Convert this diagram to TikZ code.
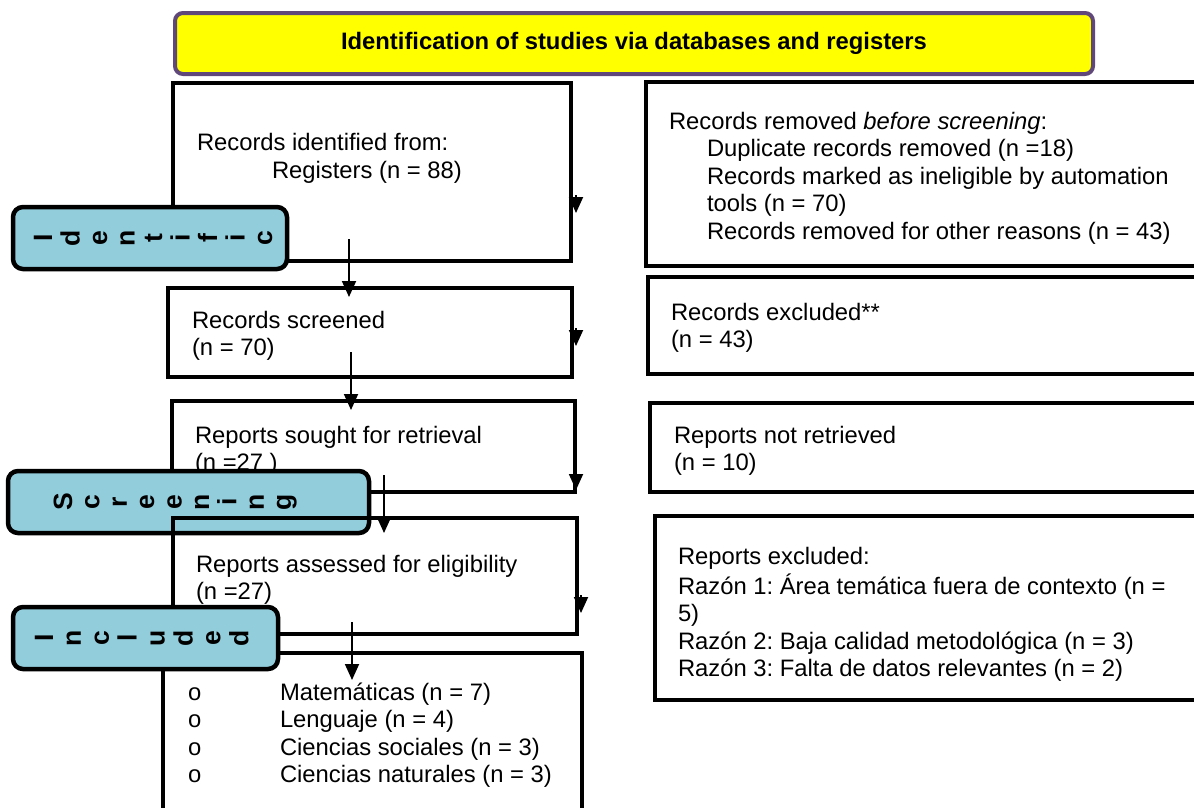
\documentclass[tikz,border=0pt]{standalone}
\usepackage{fontspec}
\setmainfont{Liberation Sans}
\usetikzlibrary{arrows.meta}
\definecolor{hdrfill}{RGB}{255,255,0}
\definecolor{hdrline}{RGB}{96,73,122}
\definecolor{phasefill}{RGB}{146,205,220}
\frenchspacing
\newcommand{\bodyfont}{\fontsize{23.8}{27.5}\selectfont}
\newcommand{\ind}{\hspace*{38pt}}
\tikzset{
  box/.style={draw=black, line width=4pt, inner sep=0pt, outer sep=0pt, anchor=north west},
  phase/.style={draw=black, line width=4.5pt, fill=phasefill, rounded corners=10pt, inner sep=0pt, outer sep=0pt},
  hdr/.style={draw=hdrline, line width=4pt, fill=hdrfill, rounded corners=8pt, inner sep=0pt, outer sep=0pt, font=\bfseries\fontsize{23.8}{27.5}\selectfont},
  txt/.style={anchor=north west, inner sep=0pt, outer sep=0pt, align=left, font=\bodyfont},
  vlet/.style={rotate=90, anchor=base, inner sep=0pt, font=\bfseries\fontsize{26.5}{30}\selectfont},
  conn/.style={line width=1.8pt, -{Triangle[length=16pt, width=14pt]}},
}
\begin{document}
\begin{tikzpicture}[x=1pt, y=-1pt]
\clip (0,0) rectangle (1194,807);
\fill[white] (0,0) rectangle (1194,807);

% title bar
\node[hdr, minimum width=918pt, minimum height=61pt] (title) at (634,43.5)
  {Identification of studies via databases and registers};

% identification stage
\node[box, minimum width=398pt, minimum height=178pt] (b1) at (173,83) {};
\node[txt] (t1) at (197,131.5) {\strut Records identified from:\\\hspace*{75pt}\strut Registers (n = 88)};
\node[phase, minimum width=274pt, minimum height=62pt] (pid) at (150,238) {};
\foreach \ch [count=\k from 0] in {I,d,e,n,t,i,f,i,c}
  \node[vlet] (pid\k) at ({52+27.5*\k},238) {\ch};

\node[box, minimum width=570pt, minimum height=184pt] (r1) at (646,82) {};
\node[txt] (rt1) at (669,110) {\strut Records removed \textit{before screening}:\\
  \ind\strut Duplicate records removed (n =18)\\
  \ind\strut Records marked as ineligible by automation\\
  \ind\strut tools (n = 70)\\
  \ind\strut Records removed for other reasons (n = 43)};

% screening stage
\node[box, minimum width=404pt, minimum height=89pt] (b2) at (168,288) {};
\node[txt] (t2) at (192,309) {\strut Records screened\\\strut (n = 70)};
\node[box, minimum width=570pt, minimum height=97pt] (r2) at (648,277) {};
\node[txt] (rt2) at (671,301) {\strut Records excluded**\\\strut (n = 43)};

\node[box, minimum width=403pt, minimum height=91pt] (b3) at (172,401) {};
\node[txt] (t3) at (195,424) {\strut Reports sought for retrieval\\\strut (n =27 )};
\node[box, minimum width=570pt, minimum height=89pt] (r3) at (650,403) {};
\node[txt] (rt3) at (674,424) {\strut Reports not retrieved\\\strut (n = 10)};

\node[phase, minimum width=361pt, minimum height=62pt] (psc) at (188.5,502) {};
\foreach \ch [count=\k from 0] in {S,c,r,e,e,n,i,n,g}
  \node[vlet] (psc\k) at ({72+27.4*\k},502) {\ch};

\node[box, minimum width=404pt, minimum height=116pt] (b4) at (173,518) {};
\node[txt] (t4) at (196,553) {\strut Reports assessed for eligibility\\\strut (n =27)};
\node[box, minimum width=570pt, minimum height=184pt] (r4) at (655,516) {};
\node[txt] (rt4) at (678,545) {\strut Reports excluded:\\
  \strut Razón 1: Área temática fuera de contexto (n =\\
  \strut 5)\\
  \strut Razón 2: Baja calidad metodológica (n = 3)\\
  \strut Razón 3: Falta de datos relevantes (n = 2)};

% included stage
\node[box, minimum width=419pt, minimum height=180pt] (b5) at (163,653) {};
\node[txt] (t5) at (188,681) {\makebox[92pt][l]{o}\strut Matemáticas (n = 7)\\
  \makebox[92pt][l]{o}\strut Lenguaje (n = 4)\\
  \makebox[92pt][l]{o}\strut Ciencias sociales (n = 3)\\
  \makebox[92pt][l]{o}\strut Ciencias naturales (n = 3)};

\node[phase, minimum width=265pt, minimum height=62pt] (pin) at (145.5,638) {};
\foreach \ch [count=\k from 0] in {I,n,c,l,u,d,e,d}
  \node[vlet] (pin\k) at ({53+27.9*\k},638) {\ch};

% flow between stages
\coordinate (a1s) at (349,239); \coordinate (a1e) at (349,297);
\coordinate (a2s) at (351,352); \coordinate (a2e) at (351,410);
\coordinate (a3s) at (384,475); \coordinate (a3e) at (384,533);
\coordinate (a4s) at (352,622); \coordinate (a4e) at (352,680);
\draw[conn] (a1s) -- (a1e);
\draw[conn] (a2s) -- (a2e);
\draw[conn] (a3s) -- (a3e);
\draw[conn] (a4s) -- (a4e);

% arrow tips on the right-hand edges
\coordinate (s1s) at (576,195); \coordinate (s1e) at (576,213);
\coordinate (s2s) at (576,328); \coordinate (s2e) at (576,346);
\coordinate (s3s) at (576,471); \coordinate (s3e) at (576,490);
\coordinate (s4s) at (581,595); \coordinate (s4e) at (581,613);
\draw[conn] (s1s) -- (s1e);
\draw[conn] (s2s) -- (s2e);
\draw[conn] (s3s) -- (s3e);
\draw[conn] (s4s) -- (s4e);
\end{tikzpicture}
\end{document}
